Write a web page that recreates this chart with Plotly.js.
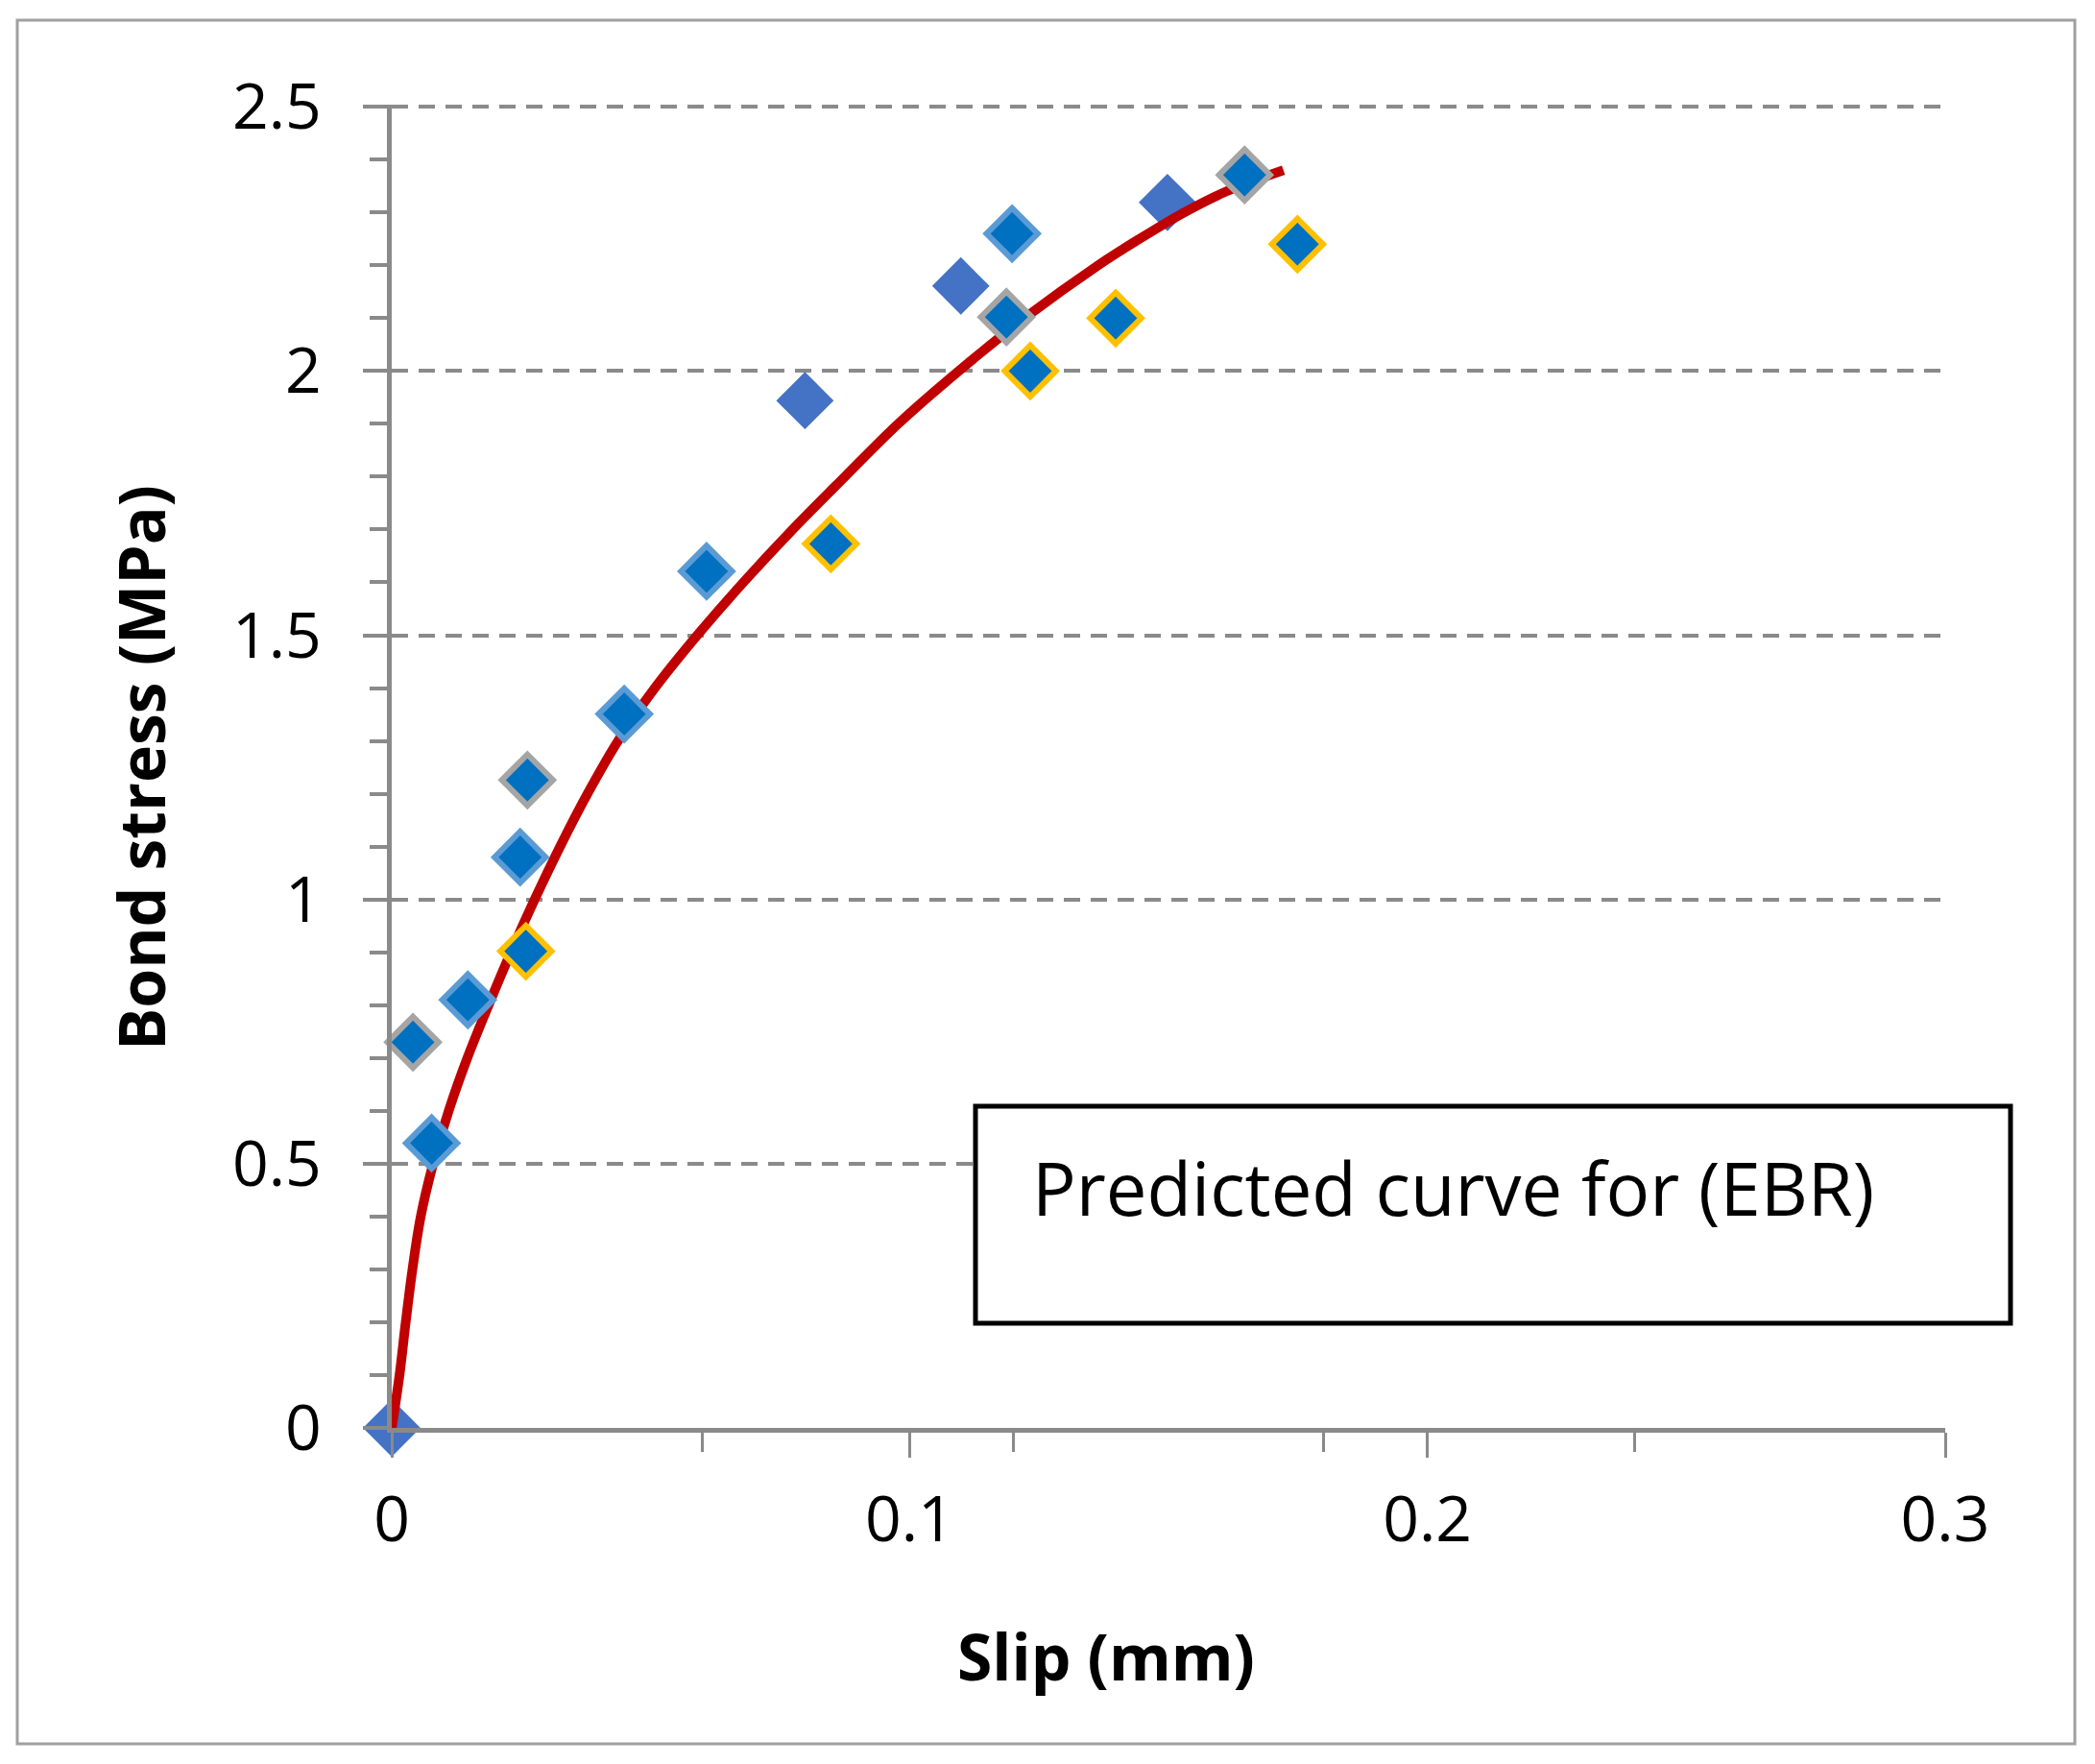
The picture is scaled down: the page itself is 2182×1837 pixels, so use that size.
<!DOCTYPE html>
<html>
<head>
<meta charset="utf-8">
<script src="https://cdn.plot.ly/plotly-3.0.1.min.js"></script>
<style>
  html, body { margin: 0; padding: 0; background: #ffffff; }
  #chart { width: 2182px; height: 1837px; }
</style>
</head>
<body>
<div id="chart"></div>
<script>
// ---- data ----
const slipA = [0, 0.0798, 0.1099, 0.1498];
const stressA = [0, 1.944, 2.161, 2.319];

const slipB = [0.0077, 0.0147, 0.0248, 0.0449, 0.0608, 0.1198];
const stressB = [0.539, 0.81, 1.08, 1.351, 1.621, 2.26];

const slipC = [0.0041, 0.0262, 0.1187, 0.1647];
const stressC = [0.73, 1.226, 2.102, 2.371];

const slipD = [0.0259, 0.0848, 0.1233, 0.1398, 0.1749];
const stressD = [0.902, 1.673, 2.0, 2.10, 2.24];

const curveSlip = [0, 0.0015, 0.0027, 0.0040, 0.0056, 0.0080, 0.0110, 0.0146, 0.0187,
                   0.0230, 0.0276, 0.0325, 0.0378, 0.0437, 0.0508, 0.0590, 0.0679, 0.0774,
                   0.0875, 0.0978, 0.1095, 0.1222, 0.1364, 0.1444, 0.1530, 0.1612, 0.1722];
const curveStress = [0, 0.1, 0.2, 0.3, 0.4, 0.5, 0.6, 0.7, 0.8,
                     0.9, 1.0, 1.1, 1.2, 1.3, 1.4, 1.5, 1.6, 1.7,
                     1.8, 1.9, 2.0, 2.1, 2.2, 2.25, 2.3, 2.34, 2.38];

const xTitle = 'Slip (mm)';
const yTitle = 'Bond stress (MPa)';
const boxText = 'Predicted curve for (EBR)';

// ---- layout geometry (pixels) ----
const W = 2182, H = 1837;
const M = { l: 408, r: 156, t: 109, b: 350 };
const PW = W - M.l - M.r, PH = H - M.t - M.b;
const px = v => (v - M.l) / PW;            // pixel x -> paper
const py = v => (H - M.b - v) / PH;        // pixel y -> paper

const FONT = '"Open Sans", Lato, sans-serif';
const AX = '#8a8a8a';
const FILL = '#0070C0';

function markerTrace(x, y, name, edge) {
  return {
    type: 'scatter', mode: 'markers', x: x, y: y, name: name,
    cliponaxis: false,
    marker: { symbol: 'diamond', size: 41, color: FILL, line: { color: edge, width: 6 } }
  };
}

const traces = [
  {
    type: 'scatter', mode: 'markers', x: slipA, y: stressA, name: 'Test A',
    cliponaxis: false,
    marker: { symbol: 'diamond', size: 46, color: '#4472C4', line: { width: 0 } }
  },
  {
    type: 'scatter', mode: 'lines', x: curveSlip, y: curveStress, name: 'Predicted',
    cliponaxis: false,
    line: { color: '#C00000', width: 10, shape: 'spline', smoothing: 1 }
  },
  markerTrace(slipB, stressB, 'Test B', '#5B9BD5'),
  markerTrace(slipC, stressC, 'Test C', '#A5A5A5'),
  markerTrace(slipD, stressD, 'Test D', '#FFC000')
];

const layout = {
  width: W, height: H,
  margin: M,
  paper_bgcolor: '#ffffff', plot_bgcolor: '#ffffff',
  showlegend: false,
  font: { family: FONT, color: '#000000' },
  xaxis: {
    range: [0, 0.3], tick0: 0, dtick: 0.1,
    showgrid: false, zeroline: false,
    showline: true, linecolor: AX, linewidth: 5,
    ticks: 'outside', ticklen: 26, tickwidth: 3, tickcolor: AX,
    minor: { tick0: 0, dtick: 0.06, ticks: 'outside', ticklen: 20, tickwidth: 3, tickcolor: AX, showgrid: false },
    tickfont: { family: FONT, size: 66, color: '#000' },
    ticklabelstandoff: 8,
    fixedrange: true
  },
  yaxis: {
    range: [0, 2.504], tick0: 0, dtick: 0.5,
    showgrid: true, gridcolor: AX, gridwidth: 4, griddash: '17px,11px',
    zeroline: false,
    showline: true, linecolor: AX, linewidth: 5,
    ticks: 'outside', ticklen: 25, tickwidth: 4, tickcolor: AX,
    minor: { tick0: 0, dtick: 0.1, ticks: 'outside', ticklen: 18, tickwidth: 4, tickcolor: AX, showgrid: false },
    tickfont: { family: FONT, size: 66, color: '#000' },
    ticklabelstandoff: 30,
    fixedrange: true
  },
  shapes: [
    { type: 'rect', xref: 'paper', yref: 'paper', layer: 'above',
      x0: px(1016), x1: px(2094), y0: py(1378), y1: py(1152),
      line: { color: '#000000', width: 5 }, fillcolor: '#ffffff' },
    { type: 'rect', xref: 'paper', yref: 'paper', layer: 'above',
      x0: px(18), x1: px(2161), y0: py(1816), y1: py(21),
      line: { color: '#a0a0a0', width: 3 }, fillcolor: 'rgba(0,0,0,0)' }
  ],
  annotations: [
    { xref: 'paper', yref: 'paper', x: px(1073), y: py(1236),
      xanchor: 'left', yanchor: 'middle', showarrow: false,
      text: boxText, font: { family: FONT, size: 76, color: '#000' } },
    { xref: 'paper', yref: 'paper', x: px(1152), y: py(1724),
      xanchor: 'center', yanchor: 'middle', showarrow: false,
      text: '<b>' + xTitle + '</b>', font: { family: FONT, size: 66, color: '#000' } },
    { xref: 'paper', yref: 'paper', x: px(146), y: py(800),
      xanchor: 'center', yanchor: 'middle', showarrow: false, textangle: -90,
      text: '<b>' + yTitle + '</b>', font: { family: FONT, size: 66, color: '#000' } }
  ]
};

Plotly.newPlot('chart', traces, layout, { displayModeBar: false, staticPlot: true });
</script>
</body>
</html>
